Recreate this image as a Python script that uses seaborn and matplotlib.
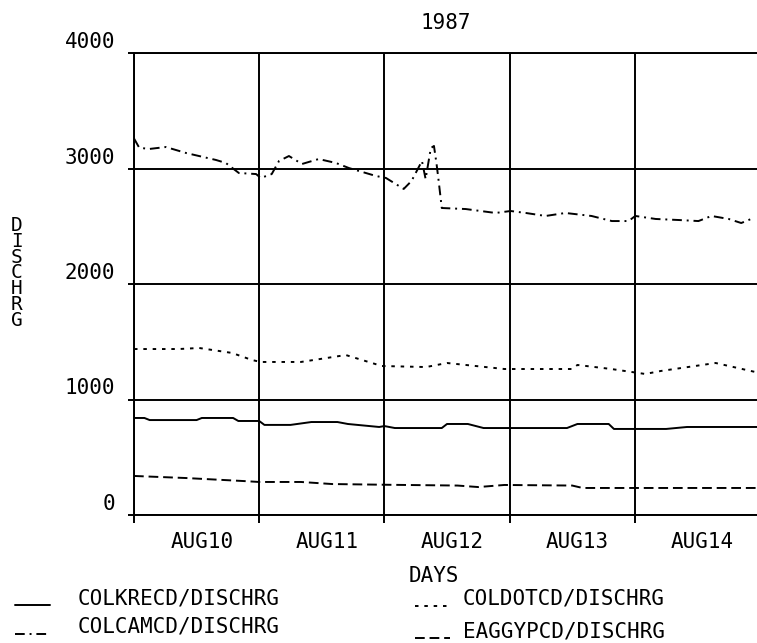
import numpy as np
import pandas as pd
import matplotlib
matplotlib.use("Agg")
import matplotlib.pyplot as plt
from matplotlib.lines import Line2D
from matplotlib.legend_handler import HandlerLine2D
from matplotlib.transforms import ScaledTranslation
import seaborn as sns

# ---------------- data (hours from AUG10 00:00, discharge) ----------------
series_names = ["COLKRECD/DISCHRG", "COLCAMCD/DISCHRG", "COLDOTCD/DISCHRG", "EAGGYPCD/DISCHRG"]

krecd_hours = [0, 2, 3, 12, 13, 19, 20, 24, 25, 30, 34, 39, 41, 47, 48, 50, 59, 60, 64, 67,
               83, 85, 91, 92, 102, 106, 120]
krecd_vals = [840, 840, 822, 822, 840, 840, 814, 814, 780, 780, 805, 805, 788, 762, 770, 753,
              753, 788, 788, 753, 753, 788, 788, 745, 745, 762, 762]

camcd_hours = [0, 1, 2.9, 6.1, 10, 15.7, 17.6, 20.1, 23.4, 24.3, 26.4, 27.8, 29.7, 32.2, 35.4,
               38.7, 41.2, 46.4, 48.3, 51.7, 53.2, 55.2, 55.9, 56.9, 57.5, 58, 58.4, 59, 63.6,
               69.3, 72.2, 75.1, 78.9, 82.7, 87.7, 91.6, 94.8, 96.1, 100, 104.4, 108.2, 110.7,
               114, 116.4, 118.3]
camcd_vals = [3260, 3180, 3169, 3186, 3134, 3074, 3048, 2961, 2952, 2918, 2952, 3065, 3108, 3039,
              3082, 3048, 3004, 2935, 2918, 2823, 2892, 3065, 2909, 3177, 3195, 3039, 2892, 2658,
              2649, 2615, 2632, 2615, 2589, 2615, 2589, 2545, 2545, 2589, 2563, 2554, 2545, 2589,
              2563, 2528, 2563]

dotcd_hours = [0, 8.6, 12.5, 18.8, 22.6, 24.3, 32, 40.6, 47.5, 56, 60, 71, 84, 85, 91.5, 98,
               101, 111.5, 120]
dotcd_vals = [1437, 1437, 1446, 1403, 1342, 1325, 1325, 1385, 1290, 1281, 1316, 1264, 1264,
              1299, 1264, 1221, 1247, 1316, 1229]

gypcd_hours = [0, 10, 21, 24, 32, 38, 48, 62, 66, 71, 84, 86, 120]
gypcd_vals = [338, 320, 294, 286, 286, 268, 262, 255, 242, 260, 255, 234, 234]

day_labels = ["AUG10", "AUG11", "AUG12", "AUG13", "AUG14"]
y_ticks = [0, 1000, 2000, 3000, 4000]

# ---------------- build table ----------------
frames = []
for name, hh, vv in zip(series_names,
                        [krecd_hours, camcd_hours, dotcd_hours, gypcd_hours],
                        [krecd_vals, camcd_vals, dotcd_vals, gypcd_vals]):
    frames.append(pd.DataFrame({"hour": hh, "flow": vv, "series": name}))
df = pd.concat(frames, ignore_index=True)

# ---------------- style ----------------
sns.set_theme(style="white")
plt.rcParams["font.family"] = ["DejaVu Sans Mono", "DejaVu Sans"]
plt.rcParams["lines.scale_dashes"] = True
for k in ["text.color", "axes.labelcolor", "xtick.color", "ytick.color", "axes.edgecolor"]:
    plt.rcParams[k] = "black"

LW = 1.4
FS = 15
dash_map = {
    "COLKRECD/DISCHRG": "",
    "COLCAMCD/DISCHRG": (5, 2.5, 1, 2.5),
    "COLDOTCD/DISCHRG": (1.8, 3),
    "EAGGYPCD/DISCHRG": (5, 2.5),
}

fig = plt.figure(figsize=(7.57, 6.43), dpi=100)
ax = fig.add_axes([134 / 757, 1 - 515 / 643, 1 - 134 / 757, (515 - 53) / 643])

sns.lineplot(data=df, x="hour", y="flow", style="series", style_order=series_names,
             dashes=dash_map, color="black", lw=LW, estimator=None, legend=False, ax=ax)

ax.set_xlim(0, (757 - 134) / 125.2 * 24)
ax.set_ylim(0, 4000)

# grid / spines
for s in ["left", "bottom", "top"]:
    ax.spines[s].set_visible(True)
    ax.spines[s].set_color("black")
    ax.spines[s].set_linewidth(LW)
ax.spines["right"].set_visible(False)

ax.set_yticks(y_ticks)
ax.set_yticklabels([str(v) for v in y_ticks], fontsize=FS)
ax.set_xticks([0, 24, 48, 72, 96])
ax.set_xticklabels([])
ax.set_xticks([d * 24 + 13 for d in range(5)], minor=True)
ax.set_xticklabels(day_labels, minor=True, fontsize=FS)

ax.grid(True, which="major", color="black", lw=LW)
ax.tick_params(axis="y", which="major", left=True, length=4.5, width=LW, color="black",
               pad=9, labelcolor="black")
ax.tick_params(axis="x", which="major", bottom=True, length=6, width=LW, color="black")
ax.tick_params(axis="x", which="minor", bottom=True, length=0, pad=12, labelcolor="black")

for lab in ax.get_yticklabels():
    lab.set_verticalalignment("bottom")
    lab.set_transform(lab.get_transform() + ScaledTranslation(0, 1 / 100, fig.dpi_scale_trans))

ax.set_xlabel("")
ax.set_ylabel("")

# texts
fig.text(446 / 757, 1 - 23 / 643, "1987", ha="center", va="center", fontsize=FS)
fig.text(434 / 757, 1 - 576 / 643, "DAYS", ha="center", va="center", fontsize=FS)
fig.text(17 / 757, 1 - 273 / 643, "\n".join("DISCHRG"), ha="center", va="center",
         fontsize=14, linespacing=0.78)


# legend handles drawn on the text baseline, like the plotter's underscores
class BaselineHandler(HandlerLine2D):
    def create_artists(self, legend, orig_handle, xdescent, ydescent, width, height,
                       fontsize, trans):
        artists = super().create_artists(legend, orig_handle, xdescent, ydescent, width,
                                         height, fontsize, trans)
        for a in artists:
            yd = a.get_ydata()
            a.set_ydata(np.full(len(yd), -1.0))
        return artists


def handle(name):
    d = dash_map[name]
    if d == "":
        return Line2D([], [], color="black", lw=LW, linestyle="-")
    return Line2D([], [], color="black", lw=LW, dashes=d)


hm = {Line2D: BaselineHandler()}
leg1 = fig.legend([handle(n) for n in series_names[:2]], series_names[:2],
                  loc="upper left", bbox_to_anchor=(15 / 757, 1 - 588 / 643),
                  frameon=False, fontsize=FS, handlelength=1.7, handletextpad=1.3,
                  labelspacing=0.4, borderpad=0, borderaxespad=0, handler_map=hm,
                  labelcolor="black")
leg2 = fig.legend([handle(n) for n in series_names[2:]], series_names[2:],
                  loc="upper left", bbox_to_anchor=(415 / 757, 1 - 589 / 643),
                  frameon=False, fontsize=FS, handlelength=1.7, handletextpad=0.6,
                  labelspacing=0.58, borderpad=0, borderaxespad=0, handler_map=hm,
                  labelcolor="black")

fig.savefig("out.png", dpi=100, facecolor="white")
